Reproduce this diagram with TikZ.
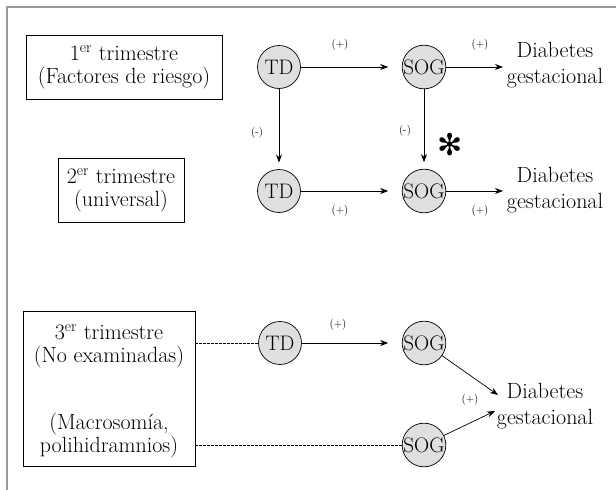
\documentclass[tikz,border=0pt]{standalone}
\usepackage{fontspec}
\newfontfamily\symfont{DejaVu Sans}
\usetikzlibrary{arrows.meta}
\begin{document}
\begin{tikzpicture}[x=1pt,y=-1pt,
  every node/.style={inner sep=0pt, outer sep=0pt},
  lbl/.style={font=\fontsize{22}{23}\selectfont, align=center},
  dlbl/.style={font=\fontsize{22}{26}\selectfont, align=center},
  small/.style={font=\fontsize{11}{12}\selectfont},
  circ/.style={circle, draw, line width=0.7pt, fill=gray!25, minimum size=43pt, font=\fontsize{21}{21}\selectfont},
  arr/.style={-{Stealth[length=8pt,width=6pt]}, line width=0.7pt},
  box/.style={draw, line width=0.8pt},
  dline/.style={line width=0.6pt, dash pattern=on 2.5pt off 1.5pt}
]
\useasboundingbox (0,0) rectangle (616,490);
\draw[gray!80, line width=1.2pt] (7,490) -- (7,7) -- (616,7);

% boxes
\node[box, lbl, minimum width=196pt, minimum height=64pt] (b1) at (124,67) {1\textsuperscript{er} trimestre\\(Factores de riesgo)};
\node[box, lbl, minimum width=126pt, minimum height=64pt] (b2) at (121,190) {2\textsuperscript{er} trimestre\\(universal)};
\node[box, minimum width=172pt, minimum height=155pt] (b3) at (109,388.5) {};
\node[lbl] (t3a) at (109,346) {3\textsuperscript{er} trimestre\\(No examinadas)};
\node[lbl] (t3b) at (109,436) {(Macrosomía,\\polihidramnios)};

% circles
\node[circ] (td1) at (279,67) {TD};
\node[circ] (sog1) at (424,67) {SOG};
\node[circ] (td2) at (279,191) {TD};
\node[circ] (sog2) at (424,191) {SOG};
\node[circ] (td3) at (280,343) {TD};
\node[circ] (sog3) at (424,343) {SOG};
\node[circ] (sog4) at (424,445) {SOG};

% outcomes
\node[dlbl] (d1) at (555,65) {Diabetes\\gestacional};
\node[dlbl] (d2) at (555,190) {Diabetes\\gestacional};
\node[dlbl] (d3) at (545,406) {Diabetes\\gestacional};

\coordinate (e1) at (503,67);
\coordinate (e2) at (503,191);
\coordinate (e3) at (498,395);
\coordinate (e4) at (495,411);

% arrows
\draw[arr, shorten >=14pt] (td1) -- (sog1);
\draw[arr] (sog1) -- (e1);
\draw[arr, shorten >=7pt] (td1) -- (td2);
\draw[arr, shorten >=7pt] (sog1) -- (sog2);
\draw[arr, shorten >=14pt] (td2) -- (sog2);
\draw[arr] (sog2) -- (e2);
\draw[arr, shorten >=14pt] (td3) -- (sog3);
\draw[arr] (sog3) -- (e3);
\draw[arr] (sog4) -- (e4);

% dashed
\draw[dline] (b3.east |- td3) -- (td3);
\draw[dline] (b3.east |- sog4) -- (sog4);

% small labels
\node[small] (p1) at (340,45) {(+)};
\node[small] (p2) at (480,45) {(+)};
\node[small] (m1) at (257,133) {(-)};
\node[small] (m2) at (405,131) {(-)};
\node[small] (p3) at (340,211) {(+)};
\node[small] (p4) at (480,211) {(+)};
\node[small] (p5) at (338,325) {(+)};
\node[small] (p6) at (470,400) {(+)};

\node[font=\symfont\fontsize{30}{30}\selectfont] (ast) at (450,145) {✻};
\end{tikzpicture}
\end{document}
